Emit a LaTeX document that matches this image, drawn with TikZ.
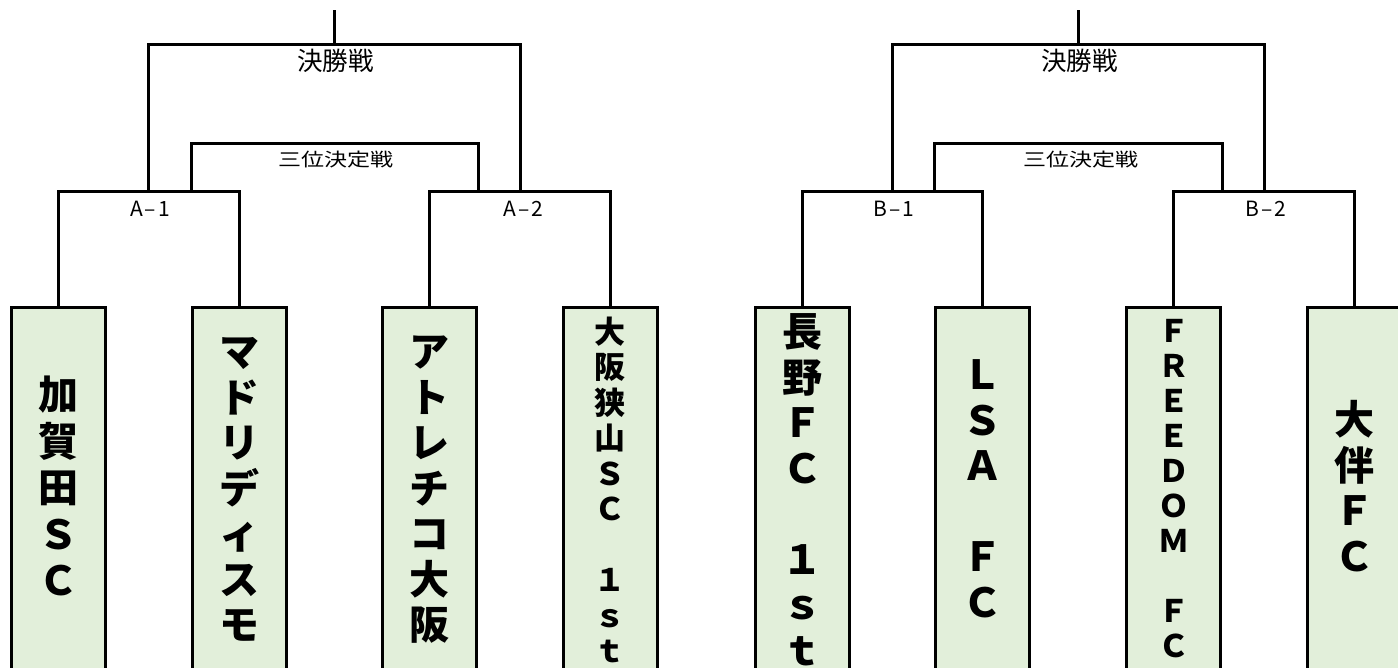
\documentclass[tikz,border=0pt]{standalone}
\usepackage{fontspec}
\setmainfont{Noto Sans CJK JP}
\usepackage{graphicx}
\definecolor{teamfill}{HTML}{E2EFDA}
\tikzset{
  brk/.style={line width=3pt, line join=miter, line cap=rect},
  teambox/.style={draw=black, line width=3pt, fill=teamfill, minimum width=94pt, minimum height=392pt, inner sep=0pt},
  roundlbl/.style={inner sep=0pt, font=\fontsize{21}{21}\selectfont},
  finallbl/.style={inner sep=0pt, font=\fontsize{25.5}{25.5}\selectfont},
  thirdlbl/.style={inner sep=0pt, font=\fontsize{23}{23}\selectfont},
}
\newcommand{\teamtext}[6]{%
  \foreach \ch [count=\i from 0] in {#6} {
    \pgfmathsetmacro{\yy}{#3+\i*#4+0.37*#5}
    \node[anchor=base, inner sep=0pt, font=\bfseries\fontsize{#5}{#5}\selectfont] (#1-\i) at (#2,\yy) {\ch};
  }%
}
\newcommand{\rlbl}[2]{#1\kern2pt–\kern2pt#2}
\begin{document}
\begin{tikzpicture}[x=1pt, y=-1pt]
\useasboundingbox (0,0) rectangle (1398,668);
\fill[white] (0,0) rectangle (1398,668);
\clip (0,0) rectangle (1398,668);

% team boxes (top at y=308, running off the bottom)
\node[teambox] (b1) at (58,504) {};
\node[teambox] (b2) at (239,504) {};
\node[teambox] (b3) at (429.5,504) {};
\node[teambox] (b4) at (610,504) {};
\node[teambox] (b5) at (802.3,504) {};
\node[teambox] (b6) at (982.5,504) {};
\node[teambox] (b7) at (1173.8,504) {};
\node[teambox] (b8) at (1354.5,504) {};

% junction coordinates
\coordinate (A1) at (148.3,192);
\coordinate (A2) at (520.7,192);
\coordinate (A1t) at (191.3,192);
\coordinate (A2t) at (478.3,192);
\coordinate (FA) at (334.5,45);
\coordinate (TA) at (334.5,11.7);
\coordinate (PA) at (335,144);

\coordinate (B1) at (892.3,192);
\coordinate (B2) at (1264.7,192);
\coordinate (B1t) at (934.3,192);
\coordinate (B2t) at (1222,192);
\coordinate (FB) at (1078.5,45);
\coordinate (TB) at (1078.5,11.7);
\coordinate (PB) at (1078,144);

% first round brackets
\draw[brk] (b1.north) |- (A1) -| (b2.north);
\draw[brk] (b3.north) |- (A2) -| (b4.north);
\draw[brk] (b5.north) |- (B1) -| (b6.north);
\draw[brk] (b7.north) |- (B2) -| (b8.north);

% finals
\draw[brk] (A1) |- (FA) -| (A2);
\draw[brk] (FA) -- (TA);
\draw[brk] (B1) |- (FB) -| (B2);
\draw[brk] (FB) -- (TB);

% third place
\draw[brk] (A1t) |- (PA) -| (A2t);
\draw[brk] (B1t) |- (PB) -| (B2t);

% labels
\node[finallbl] (fa) at (335.5,61) {決勝戦};
\node[finallbl] (fb) at (1079.5,61) {決勝戦};
\node[thirdlbl] (pa) at (335.8,160) {\scalebox{1}[0.8]{三位決定戦}};
\node[thirdlbl] (pb) at (1080.7,160) {\scalebox{1}[0.8]{三位決定戦}};
\node[roundlbl] (la1) at (150,209) {\rlbl{A}{1}};
\node[roundlbl] (la2) at (523.3,209) {\rlbl{A}{2}};
\node[roundlbl] (lb1) at (893.7,209) {\rlbl{B}{1}};
\node[roundlbl] (lb2) at (1266,209) {\rlbl{B}{2}};

% team names (vertical)
\teamtext{t1}{58}{395}{46.5}{40}{加,賀,田,Ｓ,Ｃ}
\teamtext{t2}{239}{352}{45.5}{40}{マ,ド,リ,デ,ィ,ス,モ}
\teamtext{t3}{429.5}{352}{45.5}{40}{ア,ト,レ,チ,コ,大,阪}
\teamtext{t4}{610}{332}{35.5}{31}{大,阪,狭,山,Ｓ,Ｃ,{},１,ｓ,ｔ}
\teamtext{t5}{802.3}{332}{45.5}{40}{長,野,Ｆ,Ｃ,{},１,ｓ,ｔ}
\teamtext{t6}{982.5}{375}{45.5}{40}{Ｌ,Ｓ,Ａ,{},Ｆ,Ｃ}
\teamtext{t7}{1173.8}{331}{35.05}{31}{Ｆ,Ｒ,Ｅ,Ｅ,Ｄ,Ｏ,Ｍ,{},Ｆ,Ｃ}
\teamtext{t8}{1354.5}{420}{45.5}{40}{大,伴,Ｆ,Ｃ}
\end{tikzpicture}
\end{document}
